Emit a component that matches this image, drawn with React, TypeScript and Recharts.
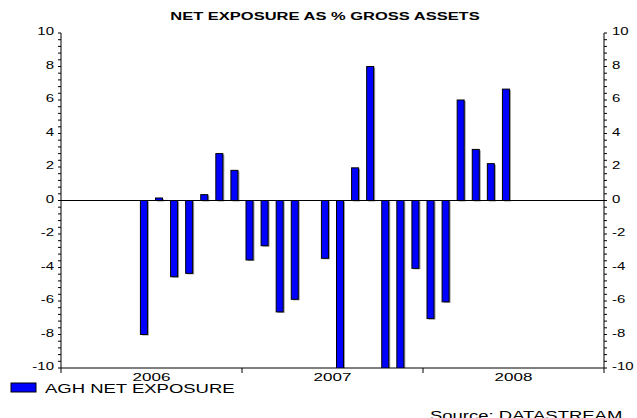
import React from 'react'
import { BarChart, Bar, XAxis, YAxis, ReferenceLine } from 'recharts'

// monthly, Jan 2006 .. Dec 2008
const months = [
  'Jan06', 'Feb06', 'Mar06', 'Apr06', 'May06', 'Jun06', 'Jul06', 'Aug06', 'Sep06', 'Oct06', 'Nov06', 'Dec06',
  'Jan07', 'Feb07', 'Mar07', 'Apr07', 'May07', 'Jun07', 'Jul07', 'Aug07', 'Sep07', 'Oct07', 'Nov07', 'Dec07',
  'Jan08', 'Feb08', 'Mar08', 'Apr08', 'May08', 'Jun08', 'Jul08', 'Aug08', 'Sep08', 'Oct08', 'Nov08', 'Dec08',
]
const netExposure: (number | null)[] = [
  null, null, null, null, null, -8.0, 0.15, -4.55, -4.35, 0.35, 2.8, 1.8,
  -3.55, -2.7, -6.65, -5.9, null, -3.45, -10.5, 1.95, 8.0, -10.5, -10.5, -4.05,
  -7.05, -6.05, 6.0, 3.05, 2.2, 6.65, null, null, null, null, null, null,
]
const years = ['2006', '2007', '2008']
const yearEdges = [0, 12, 24, 36]
const yearMids = [6, 18, 30]
const majorTicks = [-10, -8, -6, -4, -2, 0, 2, 4, 6, 8, 10]

// 4 minor ticks between each pair of labelled ticks
const allTicks: number[] = []
majorTicks.forEach((t, i) => {
  allTicks.push(t)
  if (i < majorTicks.length - 1) {
    for (let k = 1; k < 5; k++) allTicks.push(Math.round((t + k * 0.4) * 10) / 10)
  }
})

const xTicks = [...yearEdges, ...yearMids].sort((a, b) => a - b)

const data = months.map((m, i) => ({ month: m, t: i + 0.5, value: netExposure[i] }))

const FONT = '"Liberation Sans", Arial, sans-serif'
const BLUE = '#0000ff'

const YTick = ({ x, y, payload, side }: any) => {
  if (!majorTicks.includes(payload.value)) return null
  return (
    <text
      transform={`translate(${x},${y + 2}) scale(1,0.72)`}
      textAnchor={side === 'left' ? 'end' : 'start'}
      fontFamily={FONT}
      fontSize={15}
      fill="#000"
    >
      {payload.value}
    </text>
  )
}

// year boundaries get a short mark, mid-years get the label
const YearTick = ({ x, y, payload }: any) => {
  const v = payload.value
  if (yearEdges.includes(v)) {
    return <line x1={x} x2={x} y1={y} y2={y + 5} stroke="#000" strokeWidth={1} />
  }
  return (
    <text
      transform={`translate(${x},${y + 13}) scale(1,0.66)`}
      textAnchor="middle"
      fontFamily={FONT}
      fontSize={17}
      fill="#000"
    >
      {years[yearMids.indexOf(v)]}
    </text>
  )
}

const ShadowBar = (props: any) => {
  const { x, y, width, height } = props
  if (x == null || !height) return null
  const top = Math.min(y, y + height)
  const h = Math.abs(height)
  return (
    <g>
      <rect x={x + 1.5} y={top + 1} width={width} height={h} fill="#9a9a9a" />
      <rect x={x} y={top} width={width} height={h} fill={BLUE} stroke="#000" strokeWidth={1} />
    </g>
  )
}

export default function App() {
  return (
    <div style={{ position: 'absolute', left: 0, top: 0, width: 637, height: 418, background: '#fff' }}>
      <BarChart
        width={637}
        height={418}
        data={data}
        margin={{ top: 33, right: 0, left: 0, bottom: 30 }}
      >
        <XAxis
          dataKey="t"
          type="number"
          domain={[0, 36]}
          ticks={xTicks}
          interval={0}
          height={20}
          tickSize={0}
          tickMargin={0}
          axisLine={{ stroke: '#000' }}
          tickLine={false}
          tick={<YearTick />}
        />
        <YAxis
          yAxisId="left"
          orientation="left"
          width={61}
          domain={[-10, 10]}
          allowDataOverflow
          ticks={allTicks}
          interval={0}
          tickSize={3}
          tickMargin={4}
          axisLine={{ stroke: '#000' }}
          tickLine={{ stroke: '#000' }}
          tick={<YTick side="left" />}
        />
        <YAxis
          yAxisId="right"
          orientation="right"
          width={33}
          domain={[-10, 10]}
          allowDataOverflow
          ticks={allTicks}
          interval={0}
          tickSize={3}
          tickMargin={5}
          axisLine={{ stroke: '#000' }}
          tickLine={{ stroke: '#000' }}
          tick={<YTick side="right" />}
        />
        <ReferenceLine y={0} yAxisId="left" stroke="#000" strokeWidth={1.2} />
        <Bar
          dataKey="value"
          name="AGH NET EXPOSURE"
          yAxisId="left"
          barSize={7}
          shape={<ShadowBar />}
          isAnimationActive={false}
        />
      </BarChart>
      <svg width={637} height={418} style={{ position: 'absolute', left: 0, top: 0, pointerEvents: 'none' }}>
        <text
          transform="translate(325,20) scale(1,0.62)"
          textAnchor="middle"
          fontFamily={FONT}
          fontWeight="bold"
          fontSize={16.5}
          fill="#000"
        >
          NET EXPOSURE AS % GROSS ASSETS
        </text>
        <rect x={11} y={383} width={25} height={9} fill={BLUE} stroke="#000" strokeWidth={1} />
        <text transform="translate(45,393) scale(1,0.68)" fontFamily={FONT} fontSize={18.5} fill="#000">
          AGH NET EXPOSURE
        </text>
        <text transform="translate(430,420) scale(1,0.68)" fontFamily={FONT} fontSize={18.5} fill="#000">
          Source: DATASTREAM
        </text>
      </svg>
    </div>
  )
}
